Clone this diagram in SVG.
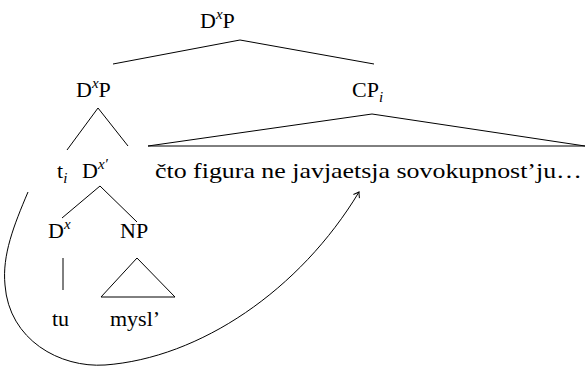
<svg xmlns="http://www.w3.org/2000/svg" width="585" height="370" viewBox="0 0 585 370">
<defs>
<style>
text{font-family:'Liberation Serif',Tinos,'Times New Roman','Nimbus Roman','Nimbus Roman No9 L','Noto Serif',FreeSerif,'DejaVu Serif',serif;font-size:22px;fill:#000}
.sup{font-size:15px;font-style:italic}
.sub{font-size:15px;font-style:italic}
.c line,.c path,.c polyline,.c polygon{stroke:#000;stroke-width:1;fill:none}
</style>
<marker id="arr" viewBox="-6 -5 8 10" markerWidth="8" markerHeight="10" refX="0" refY="0" orient="auto" markerUnits="userSpaceOnUse">
<path d="M -5 -3.5 Q -1.5 -0.8 0 0 Q -1.5 0.8 -5 3.5" stroke="#000" stroke-width="1" fill="none"/>
</marker>
</defs>
<rect width="585" height="370" fill="#fff"/>
<g id="connectors" class="c">
<polyline points="113,64 240,40 374,64"/>
<polyline points="67,150 98,108 128,146"/>
<polygon points="372,114 148,146 585,146"/>
<polyline points="62,218 100,186 137,222"/>
<line x1="63" y1="258" x2="63" y2="290"/>
<polygon points="137,258 101,297 175,297"/>
<path d="M 28 192 C 14 225, 2 255, 5 285 C 9 340, 60 368, 105 365 C 200 358, 300 290, 359 192" marker-end="url(#arr)"/>
</g>
<g id="n-dxp-top"><text x="200" y="28">D<tspan class="sup" dy="-9">x</tspan><tspan dy="9">P</tspan></text></g>
<g id="n-dxp"><text x="76" y="97">D<tspan class="sup" dy="-9">x</tspan><tspan dy="9">P</tspan></text></g>
<g id="n-cp"><text x="352" y="97">CP<tspan class="sub" dy="5">i</tspan></text></g>
<g id="n-ti"><text x="57" y="178">t<tspan class="sub" dy="5">i</tspan></text></g>
<g id="n-dxbar"><text x="82" y="178">D<tspan class="sup" dy="-9">x</tspan><tspan class="sup">′</tspan></text></g>
<g id="n-cto"><text x="155" y="178" textLength="427" lengthAdjust="spacingAndGlyphs">čto figura ne javjaetsja sovokupnost’ju…</text></g>
<g id="n-dx"><text x="48" y="238">D<tspan class="sup" dy="-9">x</tspan></text></g>
<g id="n-np"><text x="120" y="238">NP</text></g>
<g id="n-tu"><text x="52" y="326">tu</text></g>
<g id="n-mysl"><text x="110" y="326">mysl’</text></g>
</svg>
